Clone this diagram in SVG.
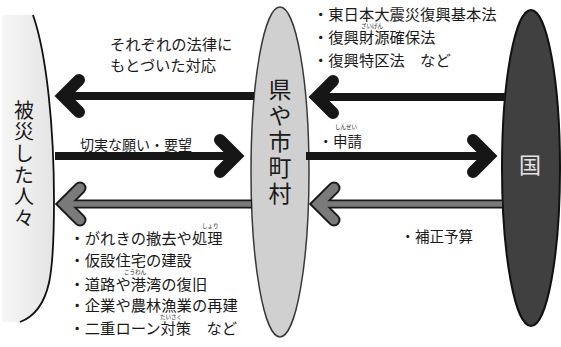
<svg xmlns="http://www.w3.org/2000/svg" width="561" height="347" viewBox="0 0 561 347">
<defs>
<style>
text{font-family:"Noto Sans CJK JP","Noto Sans CJK SC",sans-serif;fill:#1a1a1a}
.t15{font-size:15.3px}
.t14{font-size:14.5px}
.ruby{font-size:5.5px}
.vert{writing-mode:vertical-rl}
.shaft{stroke:#161616;stroke-width:8;fill:none}
.head{stroke:#161616;stroke-width:12;fill:none;stroke-linecap:round;stroke-linejoin:miter}
.gshaftO{stroke:#1a1a1a;stroke-width:9;fill:none}
.gheadO{stroke:#1a1a1a;stroke-width:13;fill:none;stroke-linecap:round;stroke-linejoin:miter}
.gshaft{stroke:#7a7a7a;stroke-width:5.5;fill:none}
.ghead{stroke:#7a7a7a;stroke-width:9;fill:none;stroke-linecap:round;stroke-linejoin:miter}
</style>
<linearGradient id="leftFade" x1="0" y1="0" x2="1" y2="0">
<stop offset="0" stop-color="#f6f6f6"/>
<stop offset="1" stop-color="#e4e4e4"/>
</linearGradient>
</defs>
<rect width="561" height="347" fill="#ffffff"/>

<g id="victims">
<path d="M33,15 C47,55 54,130 54,200 C54,270 52,310 20,322 L2,322 L2,15 Z" fill="url(#leftFade)"/>
<path d="M33,15 C47,55 54,130 54,200 C54,270 52,310 20,322" fill="none" stroke="#111" stroke-width="1.8"/>
<text class="vert" x="24" y="100" style="font-size:20px;letter-spacing:1.7px">被災した人々</text>
</g>

<g id="local">
<ellipse cx="280" cy="172" rx="29" ry="165" fill="#d0d0d0" stroke="#3a3a3a" stroke-width="1.5"/>
<text class="vert" x="280" y="78" style="font-size:23px;letter-spacing:3px">県や市町村</text>
</g>

<g id="nation">
<ellipse cx="531" cy="168" rx="29" ry="158" fill="#404040" stroke="#111" stroke-width="2"/>
<text x="530" y="173" text-anchor="middle" style="font-size:22px;fill:#e2e2e2">国</text>
</g>

<g id="connectors">
<line class="shaft" x1="64" y1="96" x2="254" y2="96"/>
<polyline class="head" points="79,80 63,96 79,112"/>
<line class="shaft" x1="55" y1="156" x2="235" y2="156"/>
<polyline class="head" points="220,140 236,156 220,172"/>
<line class="gshaftO" x1="66" y1="204" x2="252" y2="204"/>
<polyline class="gheadO" points="80,188 64,204 80,220"/>
<line class="gshaft" x1="66" y1="204" x2="251" y2="204"/>
<polyline class="ghead" points="80,188 64,204 80,220"/>

<line class="shaft" x1="318" y1="97" x2="505" y2="97"/>
<polyline class="head" points="333,81 317,97 333,113"/>
<line class="shaft" x1="306" y1="156" x2="488" y2="156"/>
<polyline class="head" points="473,140 489,156 473,172"/>
<line class="gshaftO" x1="320" y1="204" x2="503" y2="204"/>
<polyline class="gheadO" points="334,188 318,204 334,220"/>
<line class="gshaft" x1="320" y1="204" x2="502" y2="204"/>
<polyline class="ghead" points="334,188 318,204 334,220"/>
</g>

<g id="labels">
<text class="t15" x="110" y="50">それぞれの法律に</text>
<text class="t15" x="110" y="71">もとづいた対応</text>
<text style="font-size:14px" x="80" y="150">切実な願い・要望</text>

<text class="t15" x="313" y="20">・東日本大震災復興基本法</text>
<text class="ruby" x="361" y="27.5">ざいげん</text>
<text class="t15" x="313" y="42.5">・復興財源確保法</text>
<text class="t15" x="313" y="66">・復興特区法　など</text>

<text class="ruby" x="335" y="129">しんせい</text>
<text class="t14" x="318.5" y="147">・申請</text>
<text class="t14" x="400.5" y="242">・補正予算</text>

<text class="ruby" x="202" y="228">しょり</text>
<text class="t15" x="69.5" y="243.5">・がれきの撤去や処理</text>
<text class="t15" x="69.5" y="266">・仮設住宅の建設</text>
<text class="ruby" x="124" y="273.5">こうわん</text>
<text class="t15" x="69.5" y="289.5">・道路や港湾の復旧</text>
<text class="t15" x="69.5" y="311">・企業や農林漁業の再建</text>
<text class="ruby" x="160" y="318.5">たいさく</text>
<text class="t15" x="69.5" y="333.5">・二重ローン対策　など</text>
</g>
</svg>
